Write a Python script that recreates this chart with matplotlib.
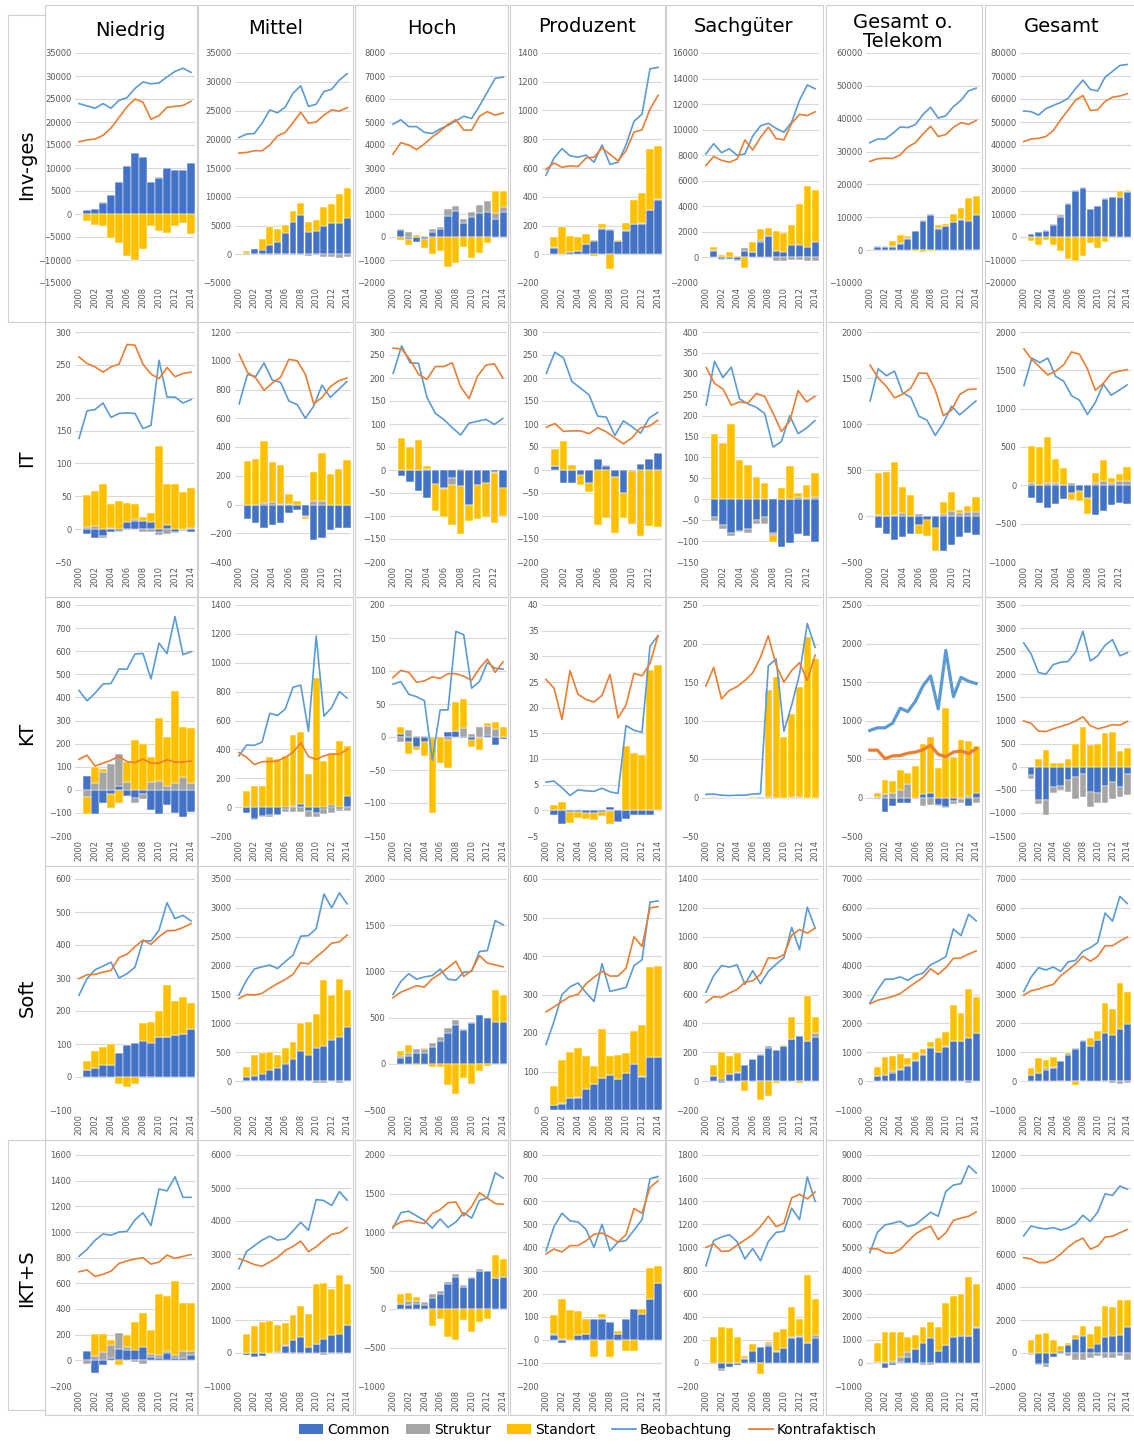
import matplotlib
matplotlib.use('Agg')
import matplotlib.pyplot as plt
from matplotlib.patches import Rectangle, Patch
from matplotlib.lines import Line2D
import numpy as np

# ---------------- data ----------------
years = list(range(2000, 2015))
years_it = list(range(2000, 2014))
columns = ['Niedrig', 'Mittel', 'Hoch', 'Produzent', 'Sachgüter', 'Gesamt o.\nTelekom', 'Gesamt']
rows = ['Inv-ges', 'IT', 'KT', 'Soft', 'IKT+S']
legend_labels = ['Common', 'Struktur', 'Standort', 'Beobachtung', 'Kontrafaktisch']

# ---- Inv-ges ----
inv_beob = [
    [24000, 23500, 23000, 24000, 23000, 24700, 25300, 27300, 28700, 28300, 28500, 29800, 31000, 31700, 30800],
    [20300, 20900, 21000, 22800, 25100, 24600, 25600, 28000, 29300, 25700, 26100, 28300, 28700, 30300, 31400],
    [4900, 5100, 4800, 4800, 4550, 4500, 4700, 4850, 5050, 5250, 5150, 5700, 6300, 6900, 6950],
    [550, 670, 735, 685, 675, 690, 640, 760, 625, 640, 760, 925, 975, 1290, 1300],
    [8100, 8900, 8200, 8500, 8000, 8100, 9500, 10300, 10500, 10100, 9800, 10600, 12300, 13500, 13200],
    [32700, 33800, 33800, 35500, 37500, 37300, 38200, 41300, 43500, 40200, 40900, 43700, 45600, 48500, 49300],
    [54800, 54500, 53000, 55800, 57200, 58500, 60300, 64500, 68200, 64200, 63500, 69500, 72000, 74600, 75000],
]
inv_kontra = [
    [15700, 16100, 16300, 17100, 18700, 21000, 23300, 25000, 24300, 20600, 21400, 23200, 23400, 23600, 24500],
    [17600, 17700, 18000, 18000, 19000, 20600, 21200, 22900, 24700, 22800, 23000, 24200, 25100, 24900, 25500],
    [3600, 4100, 4000, 3800, 4050, 4350, 4600, 4900, 5100, 4650, 4650, 5250, 5450, 5300, 5400],
    [590, 635, 605, 615, 610, 670, 675, 740, 695, 650, 720, 850, 865, 1010, 1105],
    [7200, 7900, 7600, 7450, 7700, 9200, 8400, 9400, 10200, 9300, 9200, 10500, 11200, 11100, 11400],
    [27000, 27800, 28000, 27900, 29000, 31400, 32700, 35400, 37700, 34600, 35200, 37400, 38800, 38300, 39500],
    [41500, 42600, 42900, 43700, 46300, 51000, 55200, 59500, 61500, 55000, 55300, 59000, 60800, 61300, 62300],
]
inv_common = [
    [900, 1000, 2500, 4100, 6900, 10400, 13200, 12400, 6900, 7900, 9900, 9600, 9600, 11000],
    [300, 900, 800, 1600, 2200, 3700, 5600, 6800, 3800, 4000, 4900, 5500, 5400, 6300],
    [300, -100, -200, -100, 200, 350, 900, 1150, 600, 850, 1050, 1100, 800, 1100],
    [45, -5, 15, 20, 70, 95, 175, 170, 90, 165, 210, 210, 305, 380],
    [500, -100, -100, -200, 500, 400, 1200, 1700, 500, 400, 1000, 1000, 800, 1200],
    [1100, 1100, 1100, 2000, 3500, 5700, 8800, 10800, 6500, 7200, 8600, 9300, 8900, 10700],
    [1400, 2000, 2800, 5300, 8800, 14400, 19800, 21200, 12200, 13500, 16700, 17300, 17400, 19700],
]
inv_struktur = [
    [50, 60, 40, 50, 80, 100, 60, 80, 50, 40, 60, 50, 40, 50],
    [-100, -100, -50, -50, -50, -50, -100, -100, -300, -100, -400, -400, -600, -500],
    [50, 200, 0, 50, 150, 80, 330, 180, 200, 250, 350, 450, 250, 200],
    [5, 5, 3, 3, 3, 5, 5, 5, 3, 5, 3, 5, 3, 5],
    [100, -100, 0, -100, 200, 0, 200, 0, -300, -300, -200, -200, -300, -300],
    [100, 100, 100, 100, 100, 200, 400, 200, 200, 100, 100, 100, -300, -100],
    [100, 100, 100, 400, 600, 600, 800, 500, 100, 100, 100, 100, 100, 100],
]
inv_standort = [
    [-1500, -2300, -2600, -5200, -6300, -9200, -10000, -7700, -2700, -3600, -4100, -2500, -2000, -4300],
    [300, -100, 1800, 3100, 2200, 1400, 1900, 2200, 1800, 1900, 3400, 3200, 5100, 5200],
    [-150, -250, 100, -400, -750, -600, -1300, -1150, -450, -900, -700, -250, 950, 700],
    [70, 185, 110, 95, 65, -15, 30, -100, 5, 45, 165, 210, 425, 370],
    [200, 200, 400, 100, -800, 800, 800, 600, 1600, 1500, 1500, 3200, 4800, 4100],
    [0, 0, 1500, 2500, 700, -300, -500, -300, 800, 700, 2400, 3400, 7000, 5800],
    [-1800, -3600, -1500, -3300, -6000, -9500, -10600, -8400, -2500, -4800, -2300, -500, 2300, 700],
]

# ---- IT ----
it_beob = [
    [138, 180, 182, 192, 170, 176, 177, 176, 153, 158, 257, 201, 201, 192, 197],
    [700, 905, 890, 985, 865, 850, 720, 695, 600, 685, 830, 745, 800, 855],
    [210, 270, 233, 232, 158, 123, 110, 92, 76, 102, 106, 110, 99, 112],
    [210, 256, 244, 192, 178, 163, 117, 115, 75, 107, 94, 80, 113, 125],
    [225, 330, 291, 316, 240, 228, 220, 205, 125, 138, 200, 157, 170, 188],
    [1250, 1600, 1525, 1575, 1340, 1290, 1085, 1040, 875, 1010, 1195, 1100, 1175, 1250],
    [1300, 1660, 1600, 1660, 1420, 1360, 1170, 1110, 925, 1080, 1320, 1175, 1240, 1310],
]
it_kontra = [
    [262, 252, 247, 239, 247, 251, 281, 280, 251, 236, 229, 246, 232, 237, 239],
    [1045, 920, 880, 795, 845, 885, 1010, 1000, 905, 700, 745, 820, 860, 880],
    [265, 263, 240, 208, 197, 225, 225, 233, 181, 155, 204, 228, 231, 200],
    [93, 101, 84, 85, 85, 79, 92, 83, 70, 57, 70, 92, 95, 108],
    [315, 277, 264, 225, 233, 230, 253, 246, 206, 162, 187, 260, 233, 246],
    [1640, 1500, 1410, 1285, 1325, 1390, 1555, 1550, 1370, 1090, 1150, 1320, 1375, 1380],
    [1780, 1640, 1540, 1440, 1490, 1570, 1740, 1710, 1520, 1240, 1330, 1460, 1490, 1510],
]
it_common = [
    [-8, -14, -10, -4, -3, 11, 13, 12, 11, -4, 6, -4, -1, -4],
    [-100, -130, -165, -140, -130, -60, -35, -80, -245, -230, -175, -165, -165],
    [-12, -27, -46, -60, -30, -40, -17, -35, -77, -33, -29, -5, -40],
    [9, -29, -29, -10, -28, 24, 8, -15, -51, -3, 12, 25, 38],
    [-43, -62, -80, -75, -72, -50, -42, -80, -113, -105, -83, -88, -101],
    [-130, -200, -265, -230, -200, -95, -45, -130, -380, -310, -230, -190, -210],
    [-165, -225, -290, -240, -180, -100, -70, -160, -390, -330, -250, -230, -245],
]
it_struktur = [
    [3, 5, -4, 1, -2, -2, 2, -4, -4, -5, -7, -2, -2, 1],
    [0, 0, 10, 15, 5, 5, 0, -10, 25, 25, 0, 0, 0],
    [0, 0, 0, 3, 0, -2, -15, 3, 0, 0, 0, -2, 0],
    [0, 0, 0, 0, 0, 0, 2, 0, 0, 0, 0, 0, 0],
    [-8, -8, -9, -3, -8, -8, -17, -5, 0, 0, 5, 3, 6],
    [10, 0, 10, 30, 5, 25, 0, 0, 25, 55, 35, 45, 45],
    [35, 10, 30, 30, 5, 35, 0, 0, 30, 60, 30, 55, 55],
]
it_standort = [
    [49, 53, 68, 37, 43, 29, 23, 6, 13, 126, 62, 68, 56, 61],
    [300, 315, 430, 280, 270, 65, 25, -10, 200, 330, 215, 250, 310],
    [70, 49, 65, 5, -60, -60, -88, -105, -33, -73, -73, -108, -60],
    [36, 62, 10, -22, -20, -119, -104, -122, -53, -115, -143, -122, -124],
    [156, 135, 181, 95, 82, 53, 38, -16, 26, 80, 10, 30, 58],
    [460, 475, 575, 290, 225, -100, -170, -250, 125, 205, 35, 60, 160],
    [475, 495, 600, 310, 225, -85, -140, -220, 135, 270, 70, 95, 185],
]

# ---- KT ----
kt_beob = [
    [430, 385, 418, 458, 460, 523, 522, 588, 590, 480, 635, 590, 750, 585, 598],
    [355, 430, 428, 450, 650, 635, 680, 830, 845, 525, 1185, 630, 690, 800, 755],
    [80, 84, 65, 61, 55, -35, 41, 41, 160, 155, 74, 84, 113, 104, 103],
    [5.5, 5.7, 4.4, 2.9, 4.0, 3.8, 3.7, 4.3, 3.6, 3.3, 16.5, 15.6, 15.2, 32, 34],
    [4, 4.5, 3, 2.5, 3, 3, 4.5, 5, 171, 180, 86, 120, 160, 226, 195],
    [870, 905, 905, 965, 1160, 1115, 1250, 1450, 1580, 1150, 1910, 1310, 1560, 1510, 1480],
    [2680, 2440, 2040, 2000, 2210, 2260, 2280, 2480, 2930, 2290, 2400, 2630, 2750, 2400, 2470],
]
kt_kontra = [
    [132, 150, 103, 115, 128, 145, 122, 118, 133, 115, 115, 130, 120, 120, 125],
    [378, 345, 295, 315, 315, 320, 345, 380, 445, 350, 330, 355, 370, 365, 400],
    [90, 101, 98, 83, 85, 91, 89, 96, 96, 92, 86, 104, 118, 98, 114],
    [25.5, 23.8, 17.7, 27.2, 22.6, 21.6, 21.1, 22.4, 26.5, 18, 20.5, 26.7, 26.2, 28.6, 34],
    [145, 169, 128, 139, 144, 152, 162, 182, 210, 172, 150, 165, 175, 152, 185],
    [615, 615, 505, 540, 545, 575, 590, 620, 680, 560, 530, 590, 605, 570, 635],
    [990, 940, 770, 760, 820, 870, 920, 990, 1080, 890, 820, 860, 910, 900, 980],
]
kt_common = [
    [60, -105, -57, -17, 18, -25, -35, -20, -88, -103, -67, -102, -118, -97],
    [-42, -82, -60, -55, -52, -12, 10, 22, -30, -40, -15, 15, -15, 75],
    [5, -8, -15, -7, -2, 0, 8, 9, -2, -5, -2, 3, -12, -3],
    [-0.9, -2.6, -0.3, -0.4, -0.5, -0.5, -0.3, 0.7, -2.2, -1.6, -0.9, -1.0, -0.9, 0.0],
    [0, 0, 0, 0, 0, 0, 1, 1, 0, 0, 0, 0, 0, 0],
    [-20, -190, -110, -65, -65, -20, 40, 55, -100, -120, -40, -20, -105, 55],
    [-190, -730, -730, -450, -410, -290, -220, -150, -540, -560, -420, -330, -450, -150],
]
kt_struktur = [
    [-30, 28, 78, 110, 135, 32, -20, -20, 32, 40, 18, 30, 55, 28],
    [0, -5, -5, -10, -5, -25, -35, -35, -35, -25, -35, -40, -15, -25],
    [-8, 11, 2, 2, 0, 0, -5, 0, 14, 4, 15, 13, 12, 0],
    [0, 0, 0, 0, 0, 0, 0, -0.2, 0, 0, 0, 0, 0, 0],
    [0, -2, 0, 0, 0, 0, 0, 0, 0, 0, 1, 1, 0, 0],
    [10, 40, 55, 95, 170, 0, -115, -95, -10, -10, -40, -55, 15, -70],
    [-80, -80, -310, -120, -100, -260, -470, -500, -330, -230, -370, -360, -200, -470],
]
kt_standort = [
    [-75, 70, 12, -62, -58, 88, 215, 200, 110, 270, 210, 397, 218, 238],
    [112, 145, 148, 345, 335, 355, 490, 495, 230, 895, 320, 355, 455, 345],
    [10, -18, -5, -22, -113, -40, -42, 44, 44, -10, -17, 5, 11, 15],
    [1.0, 1.6, -2.2, -1.0, -1.2, -1.3, -0.9, -2.5, -0.1, 12.6, 11.1, 10.8, 27.4, 28.4],
    [1, 0, 0, 0, 0, 1, 0, 139, 157, 79, 108, 143, 208, 180],
    [50, 190, 155, 265, 150, 405, 650, 725, 380, 1160, 520, 750, 715, 615],
    [0, 160, 360, 90, 80, 160, 490, 870, 470, 500, 720, 760, 350, 400],
]

# ---- Soft ----
soft_beob = [
    [248, 298, 325, 336, 348, 300, 313, 333, 413, 412, 445, 528, 480, 490, 473],
    [1490, 1750, 1940, 1980, 2010, 1950, 2070, 2180, 2510, 2520, 2640, 3240, 3000, 3260, 3070],
    [750, 890, 975, 915, 940, 955, 1025, 915, 905, 990, 1000, 1215, 1225, 1550, 1505],
    [170, 230, 300, 320, 330, 305, 282, 380, 308, 313, 318, 375, 390, 540, 543],
    [615, 730, 800, 790, 805, 670, 765, 675, 760, 810, 855, 1065, 910, 1205, 1060],
    [2700, 3150, 3530, 3530, 3610, 3490, 3660, 3740, 4030, 4160, 4310, 5270, 5040, 5780, 5550],
    [3100, 3600, 3930, 3850, 3950, 3800, 4130, 4180, 4500, 4620, 4800, 5820, 5540, 6400, 6150],
]
soft_kontra = [
    [298, 310, 311, 318, 323, 362, 372, 395, 415, 402, 425, 443, 444, 453, 465],
    [1430, 1500, 1490, 1520, 1610, 1690, 1760, 1850, 2050, 2030, 2150, 2260, 2390, 2410, 2530],
    [715, 775, 810, 845, 830, 920, 975, 1040, 1110, 945, 1010, 1170, 1090, 1070, 1050],
    [255, 268, 282, 295, 300, 328, 345, 360, 348, 348, 368, 450, 425, 525, 528],
    [545, 585, 580, 610, 635, 685, 695, 740, 855, 850, 875, 1010, 1050, 1025, 1060],
    [2680, 2800, 2860, 2930, 3030, 3230, 3410, 3590, 3890, 3700, 3930, 4250, 4270, 4400, 4510],
    [2980, 3130, 3190, 3280, 3350, 3650, 3850, 4060, 4330, 4150, 4320, 4690, 4690, 4850, 4990],
]
soft_common = [
    [22, 26, 36, 37, 73, 97, 104, 108, 102, 120, 120, 127, 130, 145],
    [70, 90, 120, 190, 220, 300, 390, 530, 460, 570, 610, 720, 770, 930],
    [65, 85, 120, 120, 180, 245, 335, 425, 370, 440, 525, 495, 450, 455],
    [13, 15, 30, 32, 55, 68, 84, 90, 80, 97, 120, 86, 138, 138],
    [35, 15, 50, 55, 115, 150, 180, 230, 215, 240, 295, 315, 275, 305],
    [170, 200, 290, 380, 540, 700, 910, 1140, 1000, 1190, 1380, 1380, 1480, 1660],
    [210, 280, 400, 460, 680, 900, 1100, 1380, 1220, 1420, 1670, 1610, 1790, 1980],
]
soft_struktur = [
    [0, 0, -3, 0, 0, 0, 0, -3, -3, 0, 0, 0, 0, 0],
    [-5, -5, -5, -5, -5, -5, -5, -5, -5, -40, -30, -5, -40, -5],
    [15, 35, 45, 45, 50, 40, 50, 45, 10, 10, -2, -3, -5, -5],
    [0, 2, 0, 2, 0, 0, 0, 1, 0, 0, 0, 2, 0, 0],
    [0, -10, 0, 5, 0, 0, 10, 10, 0, 5, 0, 0, 5, 25],
    [10, 0, 50, 30, 30, 30, 20, 30, 10, 30, 0, 0, -50, 0],
    [0, 0, 50, 20, 30, 80, 60, 40, 0, 0, -20, -50, -100, -80],
]
soft_standort = [
    [27, 53, 54, 63, -22, -31, -20, 57, 65, 80, 160, 103, 112, 78],
    [170, 370, 360, 320, 230, 270, 290, 470, 570, 590, 1140, 780, 1000, 650],
    [55, 85, -15, 10, -40, -30, -230, -330, -150, -220, -80, -25, 350, 290],
    [50, 112, 120, 127, 85, 45, 126, 48, 64, 52, 86, 132, 234, 237],
    [75, 185, 125, 135, -65, 5, -130, -105, -10, 5, 150, -15, 310, 115],
    [300, 630, 520, 530, 220, 270, 180, 200, 490, 470, 1250, 980, 1710, 1240],
    [240, 530, 290, 360, -30, 20, -130, -10, 290, 320, 1020, 880, 1600, 1120],
]

# ---- IKT+S ----
ikts_beob = [
    [810, 865, 935, 985, 975, 1000, 1005, 1095, 1150, 1050, 1335, 1320, 1430, 1270, 1270],
    [2550, 3080, 3250, 3420, 3540, 3420, 3460, 3700, 3960, 3720, 4650, 4620, 4470, 4890, 4630],
    [1050, 1250, 1270, 1210, 1150, 1050, 1170, 1060, 1130, 1250, 1180, 1410, 1440, 1770, 1700],
    [385, 490, 548, 515, 510, 478, 400, 500, 385, 423, 430, 475, 520, 697, 707],
    [840, 1060, 1090, 1110, 1050, 900, 990, 885, 1050, 1130, 1140, 1340, 1240, 1610, 1400],
    [4770, 5650, 5970, 6050, 6130, 5900, 5990, 6250, 6520, 6350, 7420, 7700, 7760, 8540, 8220],
    [7100, 7700, 7580, 7520, 7600, 7450, 7580, 7830, 8350, 7970, 8540, 9650, 9550, 10120, 9930],
]
ikts_kontra = [
    [690, 705, 655, 670, 695, 755, 775, 790, 800, 750, 765, 820, 795, 810, 825],
    [2860, 2780, 2680, 2630, 2760, 2900, 3110, 3230, 3390, 3070, 3220, 3420, 3600, 3640, 3800],
    [1070, 1130, 1150, 1130, 1110, 1240, 1290, 1380, 1390, 1210, 1330, 1510, 1440, 1370, 1360],
    [372, 393, 380, 408, 408, 428, 457, 462, 445, 423, 455, 568, 548, 660, 688],
    [1000, 1030, 965, 970, 1020, 1065, 1110, 1180, 1270, 1180, 1210, 1430, 1460, 1420, 1480],
    [4940, 4940, 4770, 4750, 4910, 5250, 5580, 5780, 5920, 5340, 5630, 6170, 6270, 6350, 6540],
    [5780, 5700, 5480, 5480, 5650, 6000, 6420, 6750, 6960, 6300, 6480, 7020, 7080, 7290, 7480],
]
ikts_common = [
    [70, -95, -35, 15, 85, 80, 80, 105, 25, 15, 60, 20, 15, 40],
    [-50, -120, -90, 0, 40, 220, 380, 470, 180, 270, 420, 560, 590, 850],
    [60, 50, 60, 50, 140, 200, 320, 410, 290, 400, 490, 490, 400, 410],
    [20, -15, 0, 20, 25, 90, 90, 75, 25, 90, 133, 110, 176, 246],
    [-10, -50, -35, -20, 30, 100, 140, 150, 95, 130, 215, 225, 175, 215],
    [0, -200, -100, 60, 250, 620, 880, 1070, 520, 760, 1100, 1160, 1160, 1530],
    [-80, -690, -660, -250, 130, 480, 840, 1060, 280, 520, 1000, 1060, 1080, 1600],
]
ikts_struktur = [
    [-25, 30, 65, 105, 130, 25, -15, -30, 25, 30, 10, 25, 55, 35],
    [0, -10, 0, 0, 0, 10, -30, -30, 0, 10, -60, -30, -30, 0],
    [0, 50, 50, 40, 50, 40, 30, 40, 20, 10, 30, 10, 0, 0],
    [3, 3, 0, 0, 2, 0, 3, 0, 0, 2, 0, 3, 0, 0],
    [0, -20, 0, 0, 10, -10, 0, 10, 5, 0, 5, 5, 0, 30],
    [50, 50, 100, 200, 230, 0, -100, -100, 0, 0, -50, 0, 0, 20],
    [-30, -60, -180, 0, -80, -160, -400, -420, -300, -200, -300, -330, -200, -400],
]
ikts_standort = [
    [5, 175, 140, 40, -35, 90, 220, 260, 185, 475, 435, 570, 380, 375],
    [580, 820, 950, 960, 820, 690, 780, 950, 1000, 1820, 1690, 1390, 1770, 1250],
    [130, 110, 40, 0, -220, -130, -360, -400, -140, -300, -170, -130, 300, 240],
    [85, 175, 130, 103, 62, -75, 18, -75, 12, -48, -48, 20, 133, 72],
    [225, 315, 300, 225, 20, 60, -95, 20, 170, 165, 265, 150, 585, 305],
    [800, 1280, 1250, 1070, 620, 580, 680, 680, 1040, 1850, 1800, 1810, 2570, 1870],
    [760, 1160, 1200, 760, 280, 130, 240, 600, 890, 1090, 1840, 1700, 2150, 1640],
]

# y-axis tick ranges (min, max, step) per row / column
inv_ticks = [(-15000, 35000, 5000), (-5000, 35000, 5000), (-2000, 8000, 1000), (-200, 1400, 200),
             (-2000, 16000, 2000), (-10000, 60000, 10000), (-20000, 80000, 10000)]
it_ticks = [(-50, 300, 50), (-400, 1200, 200), (-200, 300, 50), (-200, 300, 50),
            (-150, 400, 50), (-500, 2000, 500), (-1000, 2000, 500)]
kt_ticks = [(-200, 800, 100), (-200, 1400, 200), (-150, 200, 50), (-5, 40, 5),
            (-50, 250, 50), (-500, 2500, 500), (-1500, 3500, 500)]
soft_ticks = [(-100, 600, 100), (-500, 3500, 500), (-500, 2000, 500), (0, 600, 100),
              (-200, 1400, 200), (-1000, 7000, 1000), (-1000, 7000, 1000)]
ikts_ticks = [(-200, 1600, 200), (-1000, 6000, 1000), (-1000, 2000, 500), (-200, 800, 100),
              (-200, 1800, 200), (-1000, 9000, 1000), (-2000, 12000, 2000)]

# ---------------- style ----------------
C_COMMON = '#4472C4'
C_STRUKTUR = '#A5A5A5'
C_STANDORT = '#FFC000'
C_BEOB = '#5B9BD5'
C_KONTRA = '#ED7D31'
GRID = '#D9D9D9'
TXT = '#595959'
FONT = 'DejaVu Sans'

W, H = 1134, 1445
fig = plt.figure(figsize=(W / 100, H / 100), dpi=100)
fig.patch.set_facecolor('white')

col_x = [(75, 195), (235, 351), (389, 507), (542, 662), (702, 819), (866, 980), (1020, 1131)]
row_y = [(53, 283), (332, 562), (605, 836), (879, 1110), (1155, 1386)]
box_x = [(45, 197), (198, 353), (355, 508), (510, 665), (666, 823), (826, 982), (985, 1140)]
box_y = [(5, 322), (322, 597), (597, 866), (866, 1140), (1140, 1415)]

row_data = [
    (inv_beob, inv_kontra, inv_common, inv_struktur, inv_standort, inv_ticks),
    (it_beob, it_kontra, it_common, it_struktur, it_standort, it_ticks),
    (kt_beob, kt_kontra, kt_common, kt_struktur, kt_standort, kt_ticks),
    (soft_beob, soft_kontra, soft_common, soft_struktur, soft_standort, soft_ticks),
    (ikts_beob, ikts_kontra, ikts_common, ikts_struktur, ikts_standort, ikts_ticks),
]


def stacked(ax, x, series, colors):
    pos = np.zeros(len(x))
    neg = np.zeros(len(x))
    for vals, col in zip(series, colors):
        v = np.asarray(vals, dtype=float)
        base = np.where(v >= 0, pos, neg)
        ax.bar(x, v, bottom=base, width=0.9, color=col, edgecolor='white',
               linewidth=0.35, zorder=2)
        pos += np.where(v >= 0, v, 0)
        neg += np.where(v < 0, v, 0)


# panel frames
for (bx0, bx1) in box_x:
    for (by0, by1) in box_y:
        fig.add_artist(Rectangle((bx0 / W, 1 - by1 / H), (bx1 - bx0) / W, (by1 - by0) / H,
                                 transform=fig.transFigure, fill=False,
                                 edgecolor='#D0D0D0', linewidth=0.8))
# row-label frames
for (by0, by1) in [(15, 322), (1140, 1410)]:
    fig.add_artist(Rectangle((8 / W, 1 - by1 / H), 37 / W, (by1 - by0) / H,
                             transform=fig.transFigure, fill=False,
                             edgecolor='#D0D0D0', linewidth=0.8))

for r, (beob, kontra, common, struktur, standort, ticks) in enumerate(row_data):
    y0, y1 = row_y[r]
    for c in range(7):
        x0, x1 = col_x[c]
        ax = fig.add_axes([x0 / W, 1 - y1 / H, (x1 - x0) / W, (y1 - y0) / H])
        yrs = years[:len(beob[c])]
        xi = np.arange(len(yrs))
        stacked(ax, xi[1:], [common[c], struktur[c], standort[c]],
                [C_COMMON, C_STRUKTUR, C_STANDORT])
        lw = 2.3 if (r == 2 and c == 5) else 1.2
        ax.plot(xi, beob[c], color=C_BEOB, lw=lw, zorder=3, solid_joinstyle='round')
        ax.plot(xi, kontra[c], color=C_KONTRA, lw=lw, zorder=3, solid_joinstyle='round')
        lo, hi, st = ticks[c]
        ax.set_ylim(lo, hi)
        ax.set_yticks(np.arange(lo, hi + st / 2, st))
        ax.set_xlim(-0.5, len(yrs) - 0.5)
        ax.set_xticks(xi[::2])
        ax.set_xticklabels([str(y) for y in yrs[::2]], rotation=90)
        ax.grid(axis='y', color=GRID, linewidth=0.8, zorder=0)
        ax.set_axisbelow(True)
        for s in ax.spines.values():
            s.set_visible(False)
        ax.tick_params(axis='both', length=0, labelsize=6, labelcolor=TXT)
        ax.tick_params(axis='y', pad=2.5)
        ax.tick_params(axis='x', pad=3)
        for lab in ax.get_xticklabels() + ax.get_yticklabels():
            lab.set_fontfamily(FONT)
        ax.patch.set_alpha(0)

# column titles
title_pos = [(130, 30), (276, 28), (432, 28), (587, 27), (744, 27), (903, 32), (1062, 27)]
for name, (tx, ty) in zip(columns, title_pos):
    fig.text(tx / W, 1 - ty / H, name, ha='center', va='center', fontsize=14,
             family=FONT, color='black', linespacing=1.0)

# row labels
row_lab_pos = [165, 458, 733, 998, 1278]
for name, ry in zip(rows, row_lab_pos):
    fig.text(27 / W, 1 - ry / H, name, ha='center', va='center', rotation=90,
             fontsize=14, family=FONT, color='black')

# legend
handles = [Patch(facecolor=C_COMMON, edgecolor='none'),
           Patch(facecolor=C_STRUKTUR, edgecolor='none'),
           Patch(facecolor=C_STANDORT, edgecolor='none'),
           Line2D([], [], color=C_BEOB, lw=1.3),
           Line2D([], [], color=C_KONTRA, lw=1.3)]
fig.legend(handles, legend_labels, loc='center', bbox_to_anchor=(588 / W, 1 - 1430 / H),
           ncol=5, frameon=False, prop={'family': FONT, 'size': 10},
           handlelength=1.7, handletextpad=0.3, columnspacing=1.2)

fig.savefig('out.png', dpi=100, facecolor='white')
